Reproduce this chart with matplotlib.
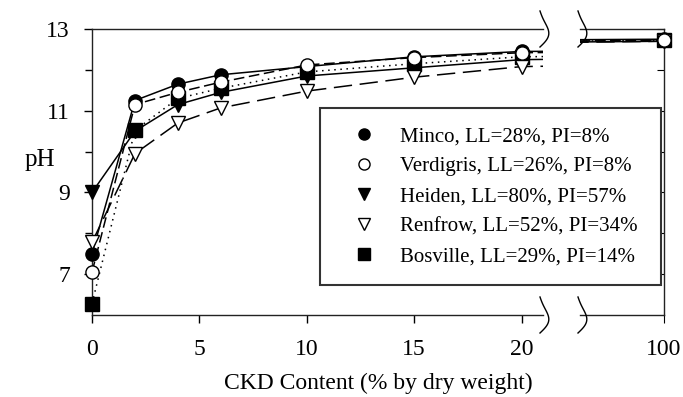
import numpy as np
import matplotlib.pyplot as plt
from matplotlib.lines import Line2D

plt.rcParams['font.family'] = ['Liberation Serif', 'DejaVu Serif']

# CKD content (% by dry weight) and pH readings
ckd = [0, 2, 4, 6, 10, 15, 20, 100]
minco = [7.5, 11.25, 11.65, 11.88, 12.08, 12.32, 12.45, 12.75]
verdigris = [7.05, 11.15, 11.45, 11.7, 12.12, 12.3, 12.42, 12.72]
heiden = [9.0, 10.5, 11.15, 11.45, 11.85, 12.05, 12.25, 12.7]
renfrow = [7.78, 9.95, 10.7, 11.07, 11.48, 11.82, 12.08, 12.7]
bosville = [6.28, 10.52, 11.3, 11.55, 11.95, 12.15, 12.32, 12.72]
names = ['Minco, LL=28%, PI=8%', 'Verdigris, LL=26%, PI=8%',
         'Heiden, LL=80%, PI=57%', 'Renfrow, LL=52%, PI=34%',
         'Bosville, LL=29%, PI=14%']

series = [minco, verdigris, heiden, renfrow, bosville]
markers = ['o', 'o', 'v', 'v', 's']
faces = ['black', 'white', 'black', 'white', 'black']
styles = ['-', (0, (7, 3)), '-', (0, (12, 5)), (0, (1, 3))]
zord = [3, 5, 3, 4, 3]

W, H = 683, 397
fig = plt.figure(figsize=(6.83, 3.97), dpi=100)


def fx(px):
    return px / W


def fy(py):
    return 1 - py / H


ax = fig.add_axes([fx(92), fy(315), fx(543) - fx(92), fy(29) - fy(315)])
ax2 = fig.add_axes([fx(580), fy(315), fx(664) - fx(580), fy(29) - fy(315)])

for a, lo, hi in [(ax, 0, 21), (ax2, 97, 100)]:
    for ys, m, fc, ls, z in zip(series, markers, faces, styles, zord):
        a.plot(ckd, ys, color='black', lw=1.1, linestyle=ls, zorder=2)
        px = [c for c in ckd if lo <= c <= hi]
        py = [v for c, v in zip(ckd, ys) if lo <= c <= hi]
        a.plot(px, py, linestyle='none', marker=m, ms=9.5, mfc=fc,
               mec='black', mew=1.0, clip_on=False, zorder=z)
    a.set_xlim(lo, hi)
    a.set_ylim(6, 13)

ax.spines['right'].set_visible(False)
ax.set_xticks([0, 5, 10, 15, 20])
ax.set_yticks([7, 9, 11, 13])
ax.set_yticks([8, 10, 12], minor=True)
ax.tick_params(direction='out', length=6, width=1, labelsize=17)
ax.tick_params(axis='y', pad=10)
ax.tick_params(axis='x', pad=11)
ax.tick_params(which='minor', direction='out', length=5, width=1)
ax.tick_params(axis='x', which='minor', bottom=False)

ax2.spines['left'].set_visible(False)
ax2.set_xticks([100])
ax2.set_yticks([7, 8, 9, 10, 11, 12, 13])
ax2.tick_params(axis='y', left=False, labelleft=False, right=True,
                direction='in', length=5)
ax2.tick_params(axis='x', direction='out', length=6, labelsize=17, pad=11)

for a in (ax, ax2):
    for s in a.spines.values():
        s.set_linewidth(1.0)
        s.set_color('#222222')

# break marks
s = np.linspace(0, 1, 60)
for cx in (540, 578):
    for cy in (29, 315):
        ys = cy - 18 + 36 * s
        xs = cx + 8 * np.sin(np.pi * s) - 2 * np.sin(2 * np.pi * s)
        fig.add_artist(Line2D(fx(xs), fy(ys), color='black', lw=1.0,
                              transform=fig.transFigure))

fig.text(fx(40), fy(160), 'pH', fontsize=18, ha='center', va='center')
fig.text(fx(378), fy(383), 'CKD Content (% by dry weight)', fontsize=17,
         ha='center', va='center')

handles = [Line2D([], [], linestyle='none', marker=m, ms=8, mfc=fc,
                  mec='black', mew=1.0)
           for m, fc in zip(markers, faces)]
leg = fig.legend(handles, names, loc='upper left',
                 bbox_to_anchor=(fx(320), fy(282), fx(661) - fx(320),
                                 fy(108) - fy(282)),
                 mode='expand', borderaxespad=0, borderpad=0.9,
                 handlelength=2.43, handletextpad=0.5, labelspacing=0.5,
                 fontsize=15, fancybox=False, framealpha=1)
leg.get_frame().set_edgecolor('#333333')
leg.get_frame().set_linewidth(1.5)

fig.savefig('out.png', dpi=100)
